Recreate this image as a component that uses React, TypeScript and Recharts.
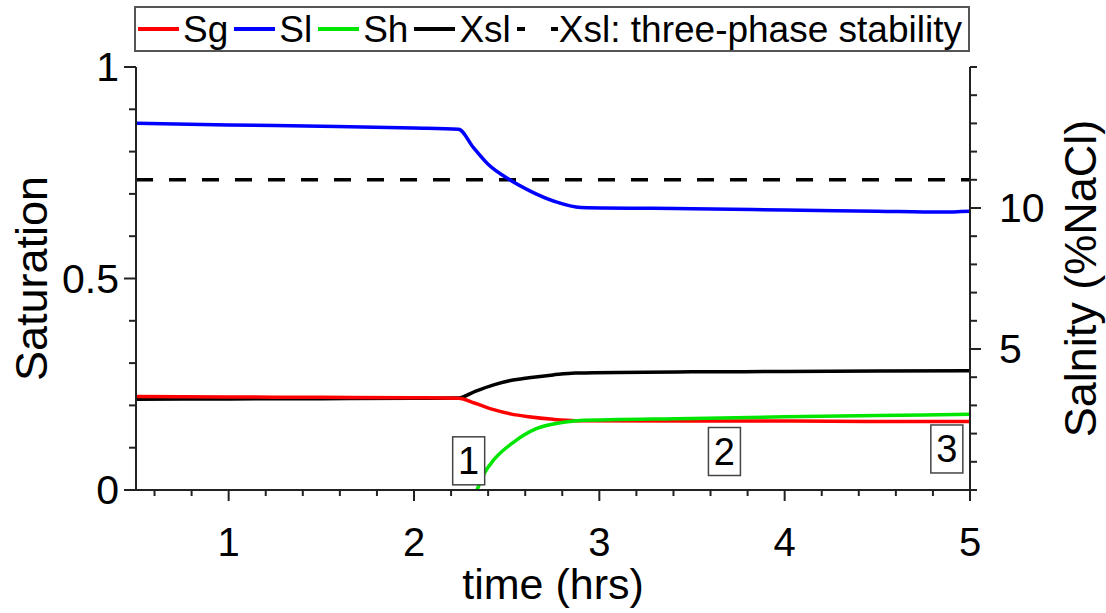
import React from "react";
import {
  ComposedChart,
  Line,
  Scatter,
  XAxis,
  YAxis,
} from "recharts";

// time (hrs) / value pairs
const sgTime = [0.5, 1, 1.5, 2, 2.24, 2.33, 2.43, 2.52, 2.62, 2.75, 2.87, 3.5, 4, 4.5, 5];
const sgValue = [0.221, 0.22, 0.219, 0.218, 0.217, 0.205, 0.19, 0.18, 0.173, 0.167, 0.164, 0.163, 0.163, 0.162, 0.162];

const slTime = [0.5, 1, 1.5, 2, 2.24, 2.32, 2.4, 2.51, 2.63, 2.76, 2.9, 3.5, 4, 4.5, 4.85, 5];
const slValue = [0.867, 0.863, 0.86, 0.856, 0.853, 0.81, 0.77, 0.735, 0.706, 0.682, 0.668, 0.665, 0.662, 0.659, 0.657, 0.659];

const shTime = [2.34, 2.38, 2.43, 2.54, 2.66, 2.79, 2.88, 3.5, 4, 4.5, 5];
const shValue = [0, 0.04, 0.071, 0.114, 0.145, 0.159, 0.164, 0.169, 0.173, 0.176, 0.179];

// salinity, right axis
const xslTime = [0.5, 1, 1.5, 2, 2.24, 2.33, 2.43, 2.52, 2.62, 2.75, 2.87, 3.5, 4, 4.5, 5];
const xslValue = [3.22, 3.23, 3.24, 3.25, 3.26, 3.5, 3.73, 3.88, 3.98, 4.08, 4.15, 4.19, 4.2, 4.22, 4.23];

const stabTime = [0.5, 5];
const stabValue = [11, 11];

// numbered boxes
const annoTime = [2.295, 3.675, 4.875];
const annoSat = [0.069, 0.091, 0.097];
const annoLabel = ["1", "2", "3"];

const xTicks = [0.6, 0.8, 1, 1.2, 1.4, 1.6, 1.8, 2, 2.2, 2.4, 2.6, 2.8, 3, 3.2, 3.4, 3.6, 3.8, 4, 4.2, 4.4, 4.6, 4.8, 5];
const xLabelled = [1, 2, 3, 4, 5];
const leftTicks = [0, 0.1, 0.2, 0.3, 0.4, 0.5, 0.6, 0.7, 0.8, 0.9, 1];
const leftLabelled = [0, 0.5, 1];
const rightTicks = [0, 1, 2, 3, 4, 5, 6, 7, 8, 9, 10, 11, 12, 13, 14, 15];
const rightLabelled = [5, 10];

const seriesNames = ["Sg", "Sl", "Sh", "Xsl", "Xsl: three-phase stability"];
const seriesColors = ["#ff0000", "#0000ff", "#00e600", "#000000", "#000000"];

const zip = (ts: number[], vs: number[]) => ts.map((t, i) => ({ t, v: vs[i] }));

const sgData = zip(sgTime, sgValue);
const slData = zip(slTime, slValue);
const shData = zip(shTime, shValue);
const xslData = zip(xslTime, xslValue);
const stabData = zip(stabTime, stabValue);
const annoData = annoTime.map((t, i) => ({ t, v: annoSat[i], label: annoLabel[i] }));

const FONT = '"Liberation Sans", Arial, sans-serif';
const AXIS = "#222";
const LW = 3.5;

function XTick({ x, y, payload }: any) {
  const major = xLabelled.includes(payload.value);
  return (
    <g>
      <line x1={x} y1={y} x2={x} y2={y + (major ? 11 : 6)} stroke={AXIS} strokeWidth={2} />
      {major && (
        <text x={x} y={y + 66} textAnchor="middle" fontSize={40} fontFamily={FONT} fill="#000">
          {payload.value}
        </text>
      )}
    </g>
  );
}

function LeftTick({ x, y, payload }: any) {
  const major = leftLabelled.includes(payload.value);
  return (
    <g>
      <line x1={x} y1={y} x2={x - (major ? 12 : 7)} y2={y} stroke={AXIS} strokeWidth={2} />
      {major && (
        <text x={x - 17} y={y} textAnchor="end" dominantBaseline="central" fontSize={41} fontFamily={FONT} fill="#000">
          {payload.value}
        </text>
      )}
    </g>
  );
}

function RightTick({ x, y, payload }: any) {
  const major = rightLabelled.includes(payload.value);
  return (
    <g>
      <line x1={x} y1={y} x2={x + (major ? 11 : 7)} y2={y} stroke={AXIS} strokeWidth={2} />
      {major && (
        <text x={x + 29} y={y} textAnchor="start" dominantBaseline="central" fontSize={41} fontFamily={FONT} fill="#000">
          {payload.value}
        </text>
      )}
    </g>
  );
}

function VTitle({ viewBox, text, dx }: any) {
  const cx = viewBox.x + dx;
  const cy = viewBox.y + viewBox.height / 2;
  return (
    <text
      x={cx}
      y={cy}
      transform={`rotate(-90, ${cx}, ${cy})`}
      textAnchor="middle"
      dominantBaseline="central"
      fontSize={45}
      fontFamily={FONT}
      fill="#000"
    >
      {text}
    </text>
  );
}

function XTitle({ viewBox }: any) {
  return (
    <text
      x={viewBox.x + viewBox.width / 2}
      y={viewBox.y + 109}
      textAnchor="middle"
      fontSize={43}
      fontFamily={FONT}
      fill="#000"
    >
      time (hrs)
    </text>
  );
}

function AnnoBox({ cx, cy, payload }: any) {
  return (
    <g>
      <rect x={cx - 16} y={cy - 24} width={32} height={48} fill="#fff" stroke="#444" strokeWidth={1.5} />
      <text x={cx} y={cy} textAnchor="middle" dominantBaseline="central" fontSize={38} fontFamily={FONT} fill="#000">
        {payload.label}
      </text>
    </g>
  );
}

function LegendBox() {
  return (
    <div
      style={{
        position: "absolute",
        left: 134,
        top: 6,
        width: 836,
        height: 46,
        boxSizing: "border-box",
        border: "2px solid #555",
        display: "flex",
        alignItems: "center",
        paddingLeft: 2,
        fontFamily: FONT,
        fontSize: 37,
        lineHeight: 1,
        whiteSpace: "nowrap",
      }}
    >
      {seriesNames.map((name, i) => (
        <div key={name} style={{ display: "flex", alignItems: "center", marginRight: 6 }}>
          <svg width={41} height={10}>
            <line
              x1={0}
              y1={5}
              x2={41}
              y2={5}
              stroke={seriesColors[i]}
              strokeWidth={4}
              strokeDasharray={i === 4 ? "8 26" : undefined}
            />
          </svg>
          <span style={{ marginLeft: i === 4 ? 1 : 4 }}>{name}</span>
        </div>
      ))}
    </div>
  );
}

export default function App() {
  return (
    <div style={{ position: "absolute", left: 0, top: 0, width: 1106, height: 613, background: "#fff" }}>
      <ComposedChart width={1106} height={613} margin={{ top: 67, right: 0, bottom: 0, left: 0 }}>
        <XAxis
          type="number"
          dataKey="t"
          domain={[0.5, 5]}
          ticks={xTicks}
          interval={0}
          allowDataOverflow
          height={123}
          tickSize={0}
          tickMargin={0}
          tickLine={false}
          tick={<XTick />}
          axisLine={{ stroke: AXIS, strokeWidth: 2 }}
          label={{ content: (p: any) => <XTitle {...p} /> }}
        />
        <YAxis
          yAxisId="left"
          type="number"
          domain={[0, 1]}
          ticks={leftTicks}
          interval={0}
          allowDataOverflow
          width={136}
          tickSize={0}
          tickMargin={0}
          tickLine={false}
          tick={<LeftTick />}
          axisLine={{ stroke: AXIS, strokeWidth: 2 }}
          label={{ content: (p: any) => <VTitle {...p} text="Saturation" dx={31} /> }}
        />
        <YAxis
          yAxisId="right"
          orientation="right"
          type="number"
          domain={[0, 15]}
          ticks={rightTicks}
          interval={0}
          allowDataOverflow
          width={136}
          tickSize={0}
          tickMargin={0}
          tickLine={false}
          tick={<RightTick />}
          axisLine={{ stroke: AXIS, strokeWidth: 2 }}
          label={{ content: (p: any) => <VTitle {...p} text="Salnity (%NaCl)" dx={110} /> }}
        />
        <Scatter
          yAxisId="left"
          data={annoData}
          dataKey="v"
          shape={(p: any) => <AnnoBox {...p} />}
          isAnimationActive={false}
        />
        <Line yAxisId="right" data={stabData} dataKey="v" name={seriesNames[4]} type="linear" stroke={seriesColors[4]} strokeWidth={LW} strokeDasharray="17 16" dot={false} isAnimationActive={false} />
        <Line yAxisId="left" data={slData} dataKey="v" name={seriesNames[1]} type="monotone" stroke={seriesColors[1]} strokeWidth={LW} dot={false} isAnimationActive={false} />
        <Line yAxisId="right" data={xslData} dataKey="v" name={seriesNames[3]} type="monotone" stroke={seriesColors[3]} strokeWidth={LW} dot={false} isAnimationActive={false} />
        <Line yAxisId="left" data={sgData} dataKey="v" name={seriesNames[0]} type="monotone" stroke={seriesColors[0]} strokeWidth={LW} dot={false} isAnimationActive={false} />
        <Line yAxisId="left" data={shData} dataKey="v" name={seriesNames[2]} type="monotone" stroke={seriesColors[2]} strokeWidth={LW} dot={false} isAnimationActive={false} />
      </ComposedChart>
      <LegendBox />
    </div>
  );
}
